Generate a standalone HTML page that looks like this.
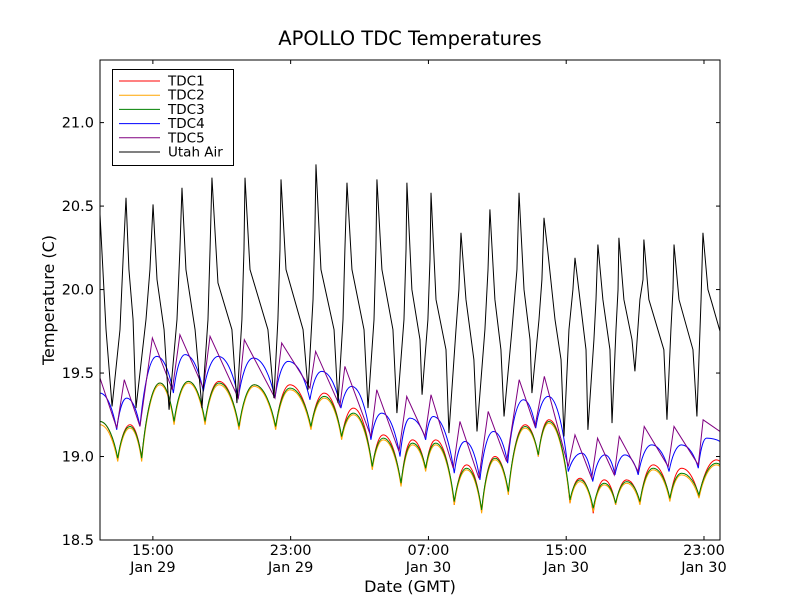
<!DOCTYPE html>
<html><head><meta charset="utf-8"><style>
html,body{margin:0;padding:0;background:#fff}
svg{display:block;font-family:"DejaVu Sans","Liberation Sans",sans-serif}
</style></head><body>
<svg id="chart" width="800" height="600" viewBox="0 0 800 600">
<rect x="0" y="0" width="800" height="600" fill="#fff"/>
<text x="410" y="45" text-anchor="middle" font-size="19.5">APOLLO TDC Temperatures</text>
<g id="series"></g>
<g id="axes"></g>
<text x="410" y="592" text-anchor="middle" font-size="16">Date (GMT)</text>
<text transform="translate(54,300) rotate(-90)" text-anchor="middle" font-size="16">Temperature (C)</text>
<g id="legend"></g>
</svg>
<script>
// hours since 11:56 Jan 29
const tdcTimes=[0,1.03,1.74,2.42,3.48,4.30,5.13,6.10,6.91,8.07,8.96,10.20,11.03,12.25,13.02,14.03,14.71,15.81,16.45,17.48,18.14,18.91,19.49,20.57,21.29,22.16,22.93,23.71,24.68,25.45,26.07,27.29,27.87,28.64,29.28,29.94,30.58,31.35,32.12,33.09,33.77,34.78,35.80,36];
const tdc1Values=[19.21,18.98,19.19,18.99,19.44,19.20,19.45,19.20,19.45,19.17,19.43,19.17,19.43,19.17,19.38,19.11,19.29,18.93,19.13,18.83,19.10,18.92,19.10,18.71,18.95,18.67,19.00,18.78,19.19,19.00,19.22,18.72,18.87,18.66,18.86,18.71,18.86,18.72,18.95,18.74,18.93,18.76,18.98,18.97];
const tdc2Values=[19.19,18.97,19.17,18.97,19.43,19.19,19.44,19.19,19.43,19.16,19.42,19.16,19.40,19.16,19.35,19.10,19.25,18.92,19.10,18.82,19.07,18.91,19.07,18.71,18.92,18.66,18.98,18.77,19.17,19.00,19.20,18.72,18.85,18.67,18.83,18.71,18.84,18.71,18.92,18.73,18.89,18.75,18.95,18.94];
const tdc3Values=[19.21,18.99,19.18,18.99,19.44,19.21,19.45,19.21,19.44,19.18,19.43,19.18,19.41,19.18,19.36,19.12,19.26,18.94,19.11,18.84,19.08,18.93,19.08,18.73,18.93,18.68,18.99,18.79,19.18,19.01,19.21,18.74,18.86,18.69,18.84,18.72,18.85,18.73,18.93,18.75,18.90,18.77,18.96,18.95];
const tdc4Times=[0,0.97,1.55,2.32,3.29,4.26,4.94,6.00,6.87,8.03,8.90,10.16,10.93,12.19,12.87,13.99,14.61,15.73,16.36,17.42,18.00,18.91,19.35,20.57,21.19,22.06,22.84,23.67,24.58,25.30,26.03,27.19,27.97,28.61,29.32,29.90,30.48,31.25,32.03,33.04,33.77,34.74,35.22,36];
const tdc4Values=[19.38,19.16,19.35,19.18,19.60,19.38,19.61,19.39,19.60,19.35,19.59,19.35,19.57,19.34,19.51,19.29,19.42,19.10,19.26,19.00,19.23,19.10,19.24,18.90,19.09,18.86,19.15,18.96,19.34,19.17,19.36,18.91,19.02,18.85,19.01,18.89,19.01,18.89,19.07,18.91,19.07,18.93,19.11,19.09];
const tdc5Times=[0,0.97,1.41,2.32,3.04,4.20,4.64,6.00,6.39,8.03,8.38,10.16,10.55,12.19,12.52,13.93,14.22,15.73,16.07,17.36,17.81,18.87,19.22,20.51,20.90,22.00,22.54,23.61,24.34,25.26,25.80,27.19,27.58,28.55,28.89,29.86,30.15,31.25,31.60,32.99,33.33,34.74,35.02,36];
const tdc5Values=[19.47,19.17,19.46,19.18,19.71,19.40,19.73,19.41,19.72,19.35,19.70,19.35,19.68,19.41,19.63,19.30,19.54,19.12,19.40,19.03,19.36,19.12,19.37,18.93,19.21,18.87,19.27,18.97,19.46,19.18,19.48,18.94,19.13,18.87,19.11,18.89,19.12,18.91,19.18,18.94,19.18,18.95,19.22,19.15];
const airTimes=[0,0.35,0.70,1.16,1.34,1.51,1.68,1.92,2.09,2.67,2.90,3.08,3.31,3.72,4.01,4.47,4.64,4.76,4.99,5.52,5.92,6.27,6.39,6.50,6.85,7.66,7.95,8.24,8.36,8.42,8.71,9.75,10.10,10.33,10.45,10.51,10.80,11.79,12.08,12.37,12.48,12.54,12.83,13.59,13.82,14.11,14.22,14.34,14.63,15.33,15.56,15.91,16.02,16.08,16.37,17.01,17.24,17.65,17.77,17.82,18.11,18.58,18.70,19.04,19.16,19.22,19.51,20.09,20.26,20.67,20.84,20.96,21.25,21.71,21.89,22.35,22.53,22.64,22.93,23.28,23.46,23.92,24.21,24.33,24.62,24.97,25.08,25.49,25.66,25.78,26.01,26.42,26.77,26.94,27.23,27.46,27.58,27.87,28.22,28.33,28.68,28.80,28.91,29.20,29.61,29.73,29.96,30.08,30.13,30.42,30.89,31.06,31.35,31.53,31.58,31.87,32.74,32.92,33.15,33.27,33.33,33.62,34.43,34.66,34.90,35.01,35.30,35.53,36];
const airValues=[20.45,19.76,19.30,19.76,20.18,20.55,20.12,19.82,19.29,19.82,20.12,20.51,20.06,19.76,19.28,19.82,20.24,20.61,20.12,19.76,19.29,19.82,20.24,20.67,20.04,19.76,19.32,19.82,20.24,20.67,20.12,19.76,19.35,19.82,20.24,20.66,20.12,19.76,19.40,19.94,20.36,20.75,20.12,19.76,19.32,19.82,20.24,20.64,20.12,19.76,19.29,19.82,20.24,20.66,20.12,19.76,19.26,19.82,20.24,20.64,20.00,19.70,19.37,19.82,20.18,20.58,19.94,19.64,19.14,19.76,20.00,20.34,19.94,19.58,19.15,19.76,20.12,20.48,19.94,19.64,19.24,19.76,20.12,20.58,20.00,19.70,19.38,19.82,20.06,20.43,20.22,19.82,19.58,19.12,19.76,20.00,20.19,19.94,19.64,19.16,19.70,19.94,20.27,19.94,19.64,19.20,19.76,20.00,20.31,19.94,19.70,19.51,19.94,20.06,20.30,19.94,19.64,19.22,19.76,20.00,20.27,19.94,19.64,19.24,19.94,20.34,20.00,19.92,19.75];
const yTicks=[18.5,19.0,19.5,20.0,20.5,21.0];
const yTickLabels=["18.5","19.0","19.5","20.0","20.5","21.0"];
const xTicks=[3.07,11.07,19.07,27.07,35.07];
const xTickLabels1=["15:00","23:00","07:00","15:00","23:00"];
const xTickLabels2=["Jan 29","Jan 29","Jan 30","Jan 30","Jan 30"];
const legendLabels=["TDC1","TDC2","TDC3","TDC4","TDC5","Utah Air"];

const L=100,R=720,T=60,B=540,X0=0,X1=36,Y0=18.5,Y1=21.375;
const NS="http://www.w3.org/2000/svg";
const sx=t=>L+(t-X0)/(X1-X0)*(R-L);
const sy=v=>B-(v-Y0)/(Y1-Y0)*(B-T);
function mk(tag,attrs,parent){const e=document.createElementNS(NS,tag);for(const k in attrs)e.setAttribute(k,attrs[k]);parent.appendChild(e);return e;}
function linePath(ts,vs){return ts.map((t,i)=>(i?'L':'M')+sx(t).toFixed(2)+','+sy(vs[i]).toFixed(2)).join('');}
function archPath(ts,vs){let d='M'+sx(ts[0]).toFixed(2)+','+sy(vs[0]).toFixed(2);
 for(let i=1;i<ts.length;i++){const x0=sx(ts[i-1]),y0=sy(vs[i-1]),x1=sx(ts[i]),y1=sy(vs[i]);const dx=x1-x0,dy=y1-y0;
  let c1,c2;
  if(y1<y0){c1=[x0+0.2*dx,y0+0.5*dy];c2=[x1-0.45*dx,y1];}
  else{c1=[x0+0.45*dx,y0];c2=[x1-0.2*dx,y1-0.5*dy];}
  d+='C'+c1[0].toFixed(2)+','+c1[1].toFixed(2)+' '+c2[0].toFixed(2)+','+c2[1].toFixed(2)+' '+x1.toFixed(2)+','+y1.toFixed(2);}
 return d;}
const sg=document.getElementById('series');
const clip=mk('clipPath',{id:'plotclip'},mk('defs',{},sg));
mk('rect',{x:L,y:T,width:R-L,height:B-T},clip);
const gg=mk('g',{'clip-path':'url(#plotclip)'},sg);
let p;
p=mk('path',{d:archPath(tdcTimes,tdc1Values),stroke:'#ff0000',fill:'none','stroke-width':1},gg);


p=mk('path',{d:archPath(tdcTimes,tdc2Values),stroke:'#ffa500',fill:'none','stroke-width':1},gg);


p=mk('path',{d:archPath(tdcTimes,tdc3Values),stroke:'#008000',fill:'none','stroke-width':1},gg);


p=mk('path',{d:archPath(tdc4Times,tdc4Values),stroke:'#0000ff',fill:'none','stroke-width':1},gg);


p=mk('path',{d:linePath(tdc5Times,tdc5Values),stroke:'#800080',fill:'none','stroke-width':1},gg);


p=mk('path',{d:linePath(airTimes,airValues),stroke:'#000000',fill:'none','stroke-width':1},gg);



const ax=document.getElementById('axes');
p=mk('rect',{x:L,y:T,width:R-L,height:B-T,fill:'none',stroke:'#000','stroke-width':1},ax);


yTicks.forEach((v,i)=>{const y=sy(v);
 mk('line',{x1:L,x2:L+4,y1:y,y2:y,stroke:'#000'},ax);
 mk('line',{x1:R-4,x2:R,y1:y,y2:y,stroke:'#000'},ax);
 const t=mk('text',{x:L-6,y:y+5,'text-anchor':'end','font-size':14.5},ax);t.textContent=yTickLabels[i];
 
 });
xTicks.forEach((v,i)=>{const x=sx(v);
 mk('line',{x1:x,x2:x,y1:B,y2:B-4,stroke:'#000'},ax);
 mk('line',{x1:x,x2:x,y1:T,y2:T+4,stroke:'#000'},ax);
 const t=mk('text',{x:x,y:555,'text-anchor':'middle','font-size':14.5},ax);t.textContent=xTickLabels1[i];
 
 
 const t2=mk('text',{x:x,y:572,'text-anchor':'middle','font-size':14.5},ax);t2.textContent=xTickLabels2[i];
 
 });

const lg=document.getElementById('legend');
const lcol=['#ff0000','#ffa500','#008000','#0000ff','#800080','#000000'];
mk('rect',{x:112.5,y:69.5,width:121,height:96,fill:'#fff',stroke:'#000'},lg);
legendLabels.forEach((s,i)=>{const y=81+i*14.2;
 const e=mk('g',{},lg);
 
 
 mk('line',{x1:119,x2:160,y1:y,y2:y,stroke:lcol[i]},e);
 const t=mk('text',{x:168,y:y+4.5,'font-size':13.5},e);t.textContent=s;});
</script>
</body></html>
